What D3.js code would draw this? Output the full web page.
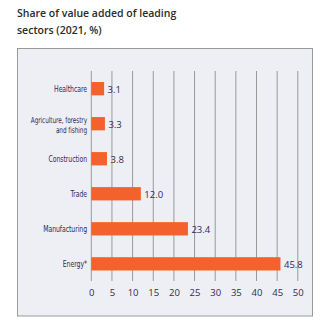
<!DOCTYPE html>
<html><head><meta charset="utf-8">
<script src="https://cdn.jsdelivr.net/npm/d3@7"></script>
<style>
html,body{margin:0;padding:0;background:#fff;}
svg{display:block;}
</style></head>
<body>
<script>
const categories = ["Healthcare", "Agriculture, forestry|and fishing", "Construction", "Trade", "Manufacturing", "Energy*"];
const values = [3.1, 3.3, 3.8, 12.0, 23.4, 45.8];
const ticks = [0, 5, 10, 15, 20, 25, 30, 35, 40, 45, 50];
const titleLines = ["Share of value added of leading", "sectors (2021, %)"];

const W = 336, H = 325;
const svg = d3.select("body").append("svg").attr("width", W).attr("height", H);

svg.selectAll("text.title").data(titleLines).join("text")
  .attr("x", 17).attr("y", (d, i) => 17 + i * 16.5)
  .attr("font-family", "'Open Sans', sans-serif").attr("font-weight", 600)
  .attr("font-size", 10.5).attr("fill", "#2a2a2a")
  .text(d => d);

svg.append("rect").attr("x", 17.5).attr("y", 48.5).attr("width", 295).attr("height", 267.5)
  .attr("fill", "#eeeff5").attr("stroke", "#9a9a9a").attr("stroke-width", 1);

const x = d3.scaleLinear().domain([0, 50]).range([91.3, 297.8]);
const y = d3.scaleBand().domain(categories).range([71.5, 281]).paddingInner(0.62).paddingOuter(0.3);

const axis = d3.axisBottom(x).tickValues(ticks).tickSize(0).tickPadding(0);
const gA = svg.append("g").attr("transform", "translate(0,281)").call(axis);
gA.select(".domain").remove();
gA.selectAll("text").attr("dy", null).attr("y", 15)
  .attr("font-family", "'Open Sans', sans-serif").attr("font-size", 9.5).attr("fill", "#2d2b5a");

svg.append("g").selectAll("line").data(ticks).join("line")
  .attr("x1", d => x(d)).attr("x2", d => x(d)).attr("y1", 71).attr("y2", 281)
  .attr("stroke", "#999").attr("stroke-width", 1);

svg.append("g").selectAll("rect").data(values).join("rect")
  .attr("x", x(0)).attr("y", (d, i) => y(categories[i]))
  .attr("width", d => x(d) - x(0)).attr("height", y.bandwidth())
  .attr("fill", "#f3622d");

svg.append("g").selectAll("text").data(values).join("text")
  .attr("x", d => x(d) + 3.5).attr("y", (d, i) => y(categories[i]) + y.bandwidth() / 2 + 4)
  .attr("font-family", "'Open Sans', sans-serif").attr("font-size", 9.5).attr("fill", "#2d2b5a")
  .text(d => d.toFixed(1));

const labG = svg.append("g");
const texts = [];
categories.forEach((c, i) => {
  const parts = c.split("|");
  const cy = y(c) + y.bandwidth() / 2;
  parts.forEach((p, j) => {
    const t = labG.append("text").attr("text-anchor", "end")
      .attr("font-family", "'DejaVu Sans Condensed', 'DejaVu Sans', sans-serif")
      .attr("font-size", parts.length > 1 ? 8.4 : 9).attr("letter-spacing", -0.1)
      .attr("fill", "#2d2b5a")
      .attr("x", 0).attr("y", 3.2 + (j - (parts.length - 1) / 2) * 10.2 + (parts.length > 1 ? 0.8 : 0))
      .text(p);
    texts.push({t, cy});
  });
});
const ref = texts[0].t.node().getComputedTextLength();
const sx = ref > 0 ? 33 / ref : 0.75;
texts.forEach(({t, cy}) => t.attr("transform", `translate(87,${cy}) scale(${sx},1)`));
</script>
</body></html>
